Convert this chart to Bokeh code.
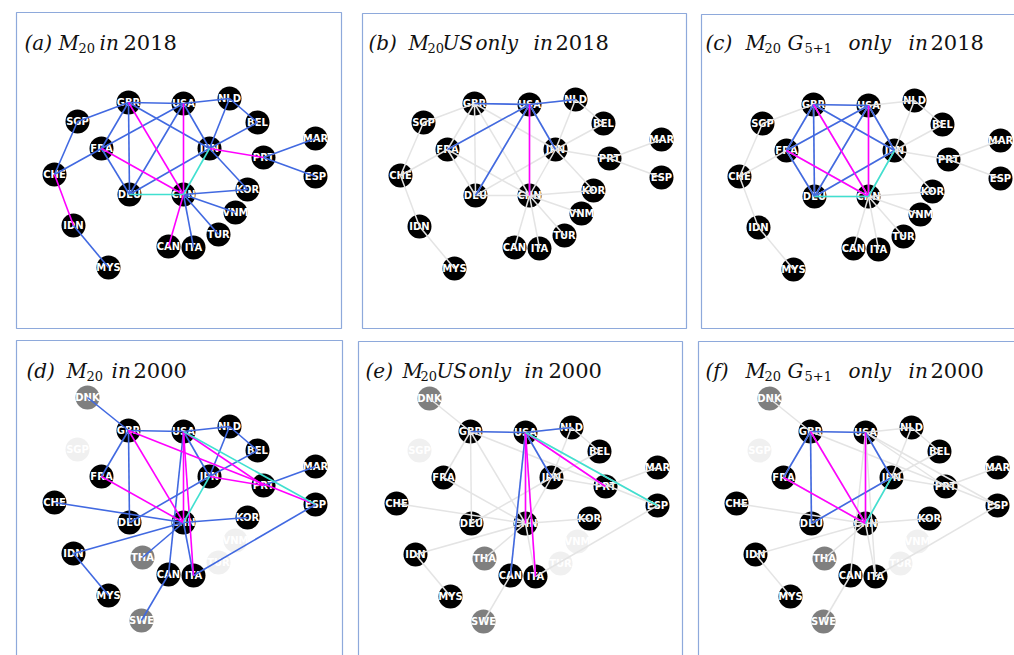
from bokeh.plotting import figure
from bokeh.models import Range1d
from bokeh.core.properties import value
from bokeh.embed import file_html
from bokeh.resources import INLINE

# ---------------- data ----------------
node_names = ["GBR", "USA", "NLD", "BEL", "SGP", "FRA", "JPN", "PRT", "MAR", "ESP",
              "CHE", "DEU", "CHN", "KOR", "VNM", "TUR", "ITA", "CAN", "IDN", "MYS",
              "DNK", "THA", "SWE"]
# network layout (relative to each panel's top-left corner)
node_x = [112, 167, 213, 241, 61, 85, 193, 247, 299, 299,
          38, 113, 167, 231, 219, 202, 177, 152, 57, 92,
          71, 126, 125]
node_y = [90, 91, 86, 110, 109, 136, 136, 145, 126, 164,
          162, 182, 182, 177, 200, 222, 235, 234, 213, 255,
          57, 217, 280]

status_2018 = ["member"] * 20 + ["absent"] * 3
status_2000 = ["member", "member", "member", "member", "faint", "member", "member", "member", "member", "member",
               "member", "member", "member", "member", "faint", "faint", "member", "member", "member", "member",
               "other", "other", "other"]

src_2018 = ["GBR", "USA", "NLD", "NLD", "BEL", "GBR", "SGP", "CHE", "FRA", "GBR", "GBR", "GBR",
            "FRA", "USA", "USA", "DEU", "JPN", "CHN", "CHN", "CHN", "CHN", "PRT", "PRT", "IDN",
            "GBR", "USA", "FRA", "CHN", "CHE", "JPN",
            "DEU", "JPN"]
dst_2018 = ["USA", "NLD", "BEL", "JPN", "JPN", "SGP", "CHE", "FRA", "USA", "FRA", "DEU", "JPN",
            "DEU", "DEU", "JPN", "JPN", "KOR", "KOR", "VNM", "TUR", "ITA", "MAR", "ESP", "MYS",
            "CHN", "CHN", "CHN", "CAN", "IDN", "PRT",
            "CHN", "CHN"]
kind_2018 = ["k1"] * 24 + ["k2"] * 6 + ["k3"] * 2

src_2000 = ["DNK", "GBR", "USA", "NLD", "NLD", "BEL", "GBR", "GBR", "USA", "DEU",
            "USA", "CHE", "CHN", "CHN", "CHN", "CHN", "CAN", "IDN", "ESP", "MAR",
            "GBR", "FRA", "USA", "USA", "GBR", "USA", "JPN",
            "USA", "JPN"]
dst_2000 = ["GBR", "USA", "NLD", "BEL", "JPN", "JPN", "FRA", "DEU", "JPN", "JPN",
            "CAN", "CHN", "KOR", "IDN", "THA", "ITA", "SWE", "MYS", "ITA", "PRT",
            "CHN", "CHN", "CHN", "ITA", "ESP", "PRT", "PRT",
            "ESP", "CHN"]
kind_2000 = ["k1"] * 20 + ["k2"] * 7 + ["k3"] * 2

g5plus1 = ["USA", "GBR", "FRA", "DEU", "JPN", "CHN"]

# ---------------- styles / layout ----------------
kind_color = {"k1": "#4169E1", "k2": "#FF00FF", "k3": "#40E0D0"}
node_fill = {"member": "#000000", "other": "#7f7f7f", "faint": "#f0f0f0"}
border_color = "#8EA9DB"
faint_edge = "#e4e4e4"

panels = [
    # left, top, right, bottom, year, filter, baseline
    (16, 12, 341, 328, "2018", "all", 42),
    (362, 13, 686, 328, "2018", "US", 42),
    (701, 14, 1040, 328, "2018", "G", 42),
    (16, 340, 342, 680, "2000", "all", 370),
    (358, 341, 682, 680, "2000", "US", 370),
    (698, 341, 1040, 680, "2000", "G", 370),
]
titles = [
    [("(a)", 8, "it"), ("M", 42, "it"), ("20", 62, "sub"), ("in", 83, "it"), ("2018", 107, "rm")],
    [("(b)", 6, "it"), ("M", 46, "it"), ("20", 65, "sub"), ("US", 80, "it"), ("only", 113, "it"),
     ("in", 171, "it"), ("2018", 193, "rm")],
    [("(c)", 4, "it"), ("M", 44, "it"), ("20", 63, "sub"), ("G", 86, "it"), ("5+1", 103, "sub"),
     ("only", 147, "it"), ("in", 207, "it"), ("2018", 229, "rm")],
    [("(d)", 10, "it"), ("M", 50, "it"), ("20", 70, "sub"), ("in", 95, "it"), ("2000", 117, "rm")],
    [("(e)", 7, "it"), ("M", 44, "it"), ("20", 62, "sub"), ("US", 78, "it"), ("only", 110, "it"),
     ("in", 166, "it"), ("2000", 190, "rm")],
    [("(f)", 7, "it"), ("M", 47, "it"), ("20", 66, "sub"), ("G", 89, "it"), ("5+1", 106, "sub"),
     ("only", 150, "it"), ("in", 210, "it"), ("2000", 232, "rm")],
]

W, H = 1014, 655
p = figure(width=W, height=H, x_range=Range1d(0, W), y_range=Range1d(H, 0),
           output_backend="svg", toolbar_location=None, min_border=0)
p.axis.visible = False
p.grid.visible = False
p.outline_line_color = None
p.background_fill_color = "white"

idx = {n: i for i, n in enumerate(node_names)}

for (left, top, right, bottom, year, filt, base), pieces in zip(panels, titles):
    # panel border
    p.quad(left=[left], right=[right], top=[top], bottom=[bottom],
           fill_color=None, line_color=border_color, line_width=1.2)
    status = status_2018 if year == "2018" else status_2000
    src, dst, kind = (src_2018, dst_2018, kind_2018) if year == "2018" else (src_2000, dst_2000, kind_2000)

    # nodes
    nx, ny, nc, nl = [], [], [], []
    for n, x, y, s in zip(node_names, node_x, node_y, status):
        if s == "absent":
            continue
        nx.append(left + x)
        ny.append(top + y)
        nc.append(node_fill[s])
        nl.append(n)
    p.scatter(nx, ny, size=24, fill_color=nc, line_color=None)
    p.text(nx, ny, text=nl, text_color="white", text_font=value("DejaVu Sans"),
           text_font_style="bold", text_font_size="10px", text_align="center",
           text_baseline="middle")

    # edges
    def seg(a, b):
        return (left + node_x[idx[a]], top + node_y[idx[a]],
                left + node_x[idx[b]], top + node_y[idx[b]])

    if filt == "all":
        hl = [True] * len(src)
    else:
        if filt == "US":
            hl = [("USA" in (a, b)) for a, b in zip(src, dst)]
        else:
            hl = [(a in g5plus1 and b in g5plus1) for a, b in zip(src, dst)]
        allseg = [seg(a, b) for a, b in zip(src, dst)]
        p.segment([s[0] for s in allseg], [s[1] for s in allseg], [s[2] for s in allseg],
                  [s[3] for s in allseg], line_color=faint_edge, line_width=1.5)
    for k in ["k1", "k2", "k3"]:
        ss = [seg(a, b) for a, b, kk, h in zip(src, dst, kind, hl) if kk == k and h]
        if ss:
            p.segment([s[0] for s in ss], [s[1] for s in ss], [s[2] for s in ss],
                      [s[3] for s in ss], line_color=kind_color[k], line_width=1.6)

    # title
    for txt, dx, sty in pieces:
        if sty == "sub":
            p.text([left + dx], [base + 5], text=[txt], text_font=value("DejaVu Serif"),
                   text_font_size="13px", text_color="#111111", text_baseline="alphabetic")
        else:
            p.text([left + dx], [base], text=[txt], text_font=value("DejaVu Serif"),
                   text_font_style="italic" if sty == "it" else "normal",
                   text_font_size="20px" if sty == "it" else "21px",
                   text_color="#111111", text_baseline="alphabetic")

open("out.html", "w").write(file_html(p, INLINE))
